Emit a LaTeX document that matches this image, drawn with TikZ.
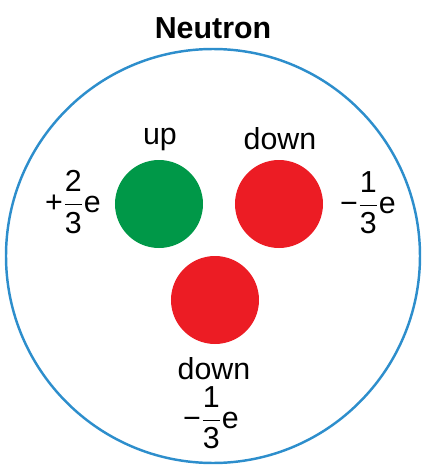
\documentclass[tikz,border=0pt]{standalone}
\usepackage{amsmath}
\usepackage{fontspec}
\setmainfont{Liberation Sans}
\usepackage{tikz}

\definecolor{shellblue}{RGB}{45,142,204}
\definecolor{upgreen}{RGB}{0,152,72}
\definecolor{downred}{RGB}{236,28,36}

\tikzset{
  quark/.style={circle, minimum size=1.76cm, inner sep=0pt},
  charge/.style={inner sep=0pt}
}

\begin{document}
\begin{tikzpicture}[every node/.style={font=\LARGE}]
			\useasboundingbox (0,0) rectangle (8.5,9.34);
			\node[circle, draw=shellblue, line width=1.4pt, minimum size=8.28cm, inner sep=0pt] (shell) at (4.26,4.22) {};
			\node[font=\LARGE\bfseries] (title) at (4.26,8.78) {Neutron};
			\node[quark, fill=upgreen] (qup) at (3.18,5.26) {};
			\node[quark, fill=downred] (qdownA) at (5.58,5.26) {};
			\node[quark, fill=downred] (qdownB) at (4.30,3.34) {};
			\node (lup) at (3.20,6.56) {up};
			\node (ldownA) at (5.60,6.56) {down};
			\node[inner sep=1pt] (ldownB) at (4.28,1.96) {down};
			\node[charge] (cup) at (1.46,5.30) {+$\dfrac{\text{2}}{\text{3}}$e};
			\node[charge] (cdownA) at (7.36,5.28) {−$\dfrac{\text{1}}{\text{3}}$e};
			\node[charge] (cdownB) at (4.22,0.98) {−$\dfrac{\text{1}}{\text{3}}$e};
		\end{tikzpicture}
\end{document}
